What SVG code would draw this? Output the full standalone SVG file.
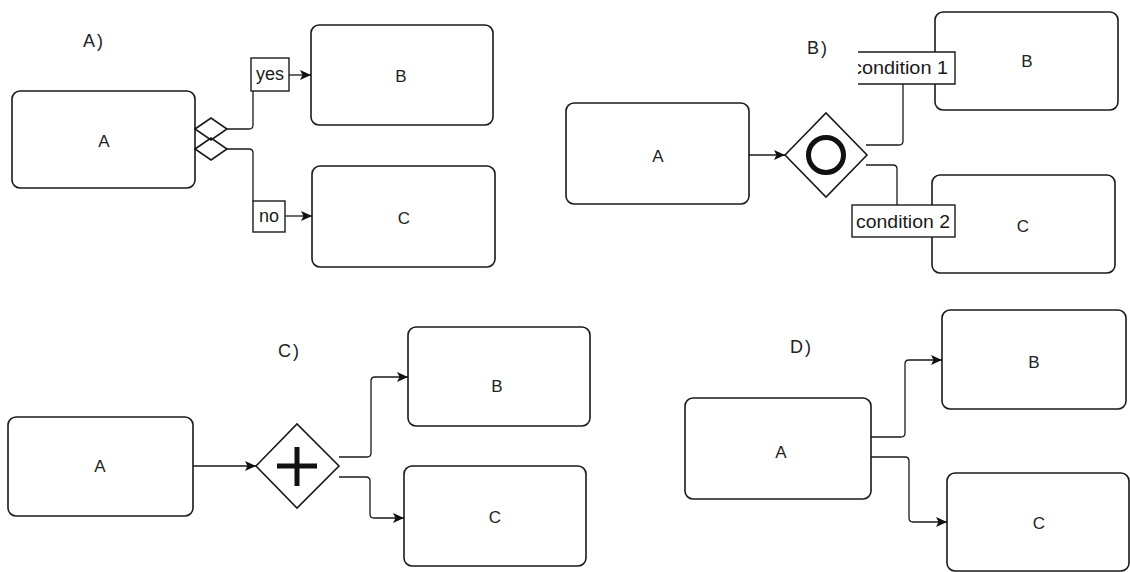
<svg xmlns="http://www.w3.org/2000/svg" width="1130" height="572" viewBox="0 0 1130 572">
  <defs>
    <marker id="arrow" markerUnits="userSpaceOnUse" markerWidth="11" markerHeight="10" refX="11" refY="5" orient="auto">
      <path d="M0,0 L11,5 L0,10 L2.5,5 z" fill="#111"/>
    </marker>
    <clipPath id="clip-cond1">
      <rect x="858" y="50" width="100" height="36"/>
    </clipPath>
  </defs>
  <style>
    .box{fill:#fff;stroke:#1a1a1a;stroke-width:1.6}
    .lbl{font-family:"Liberation Sans",Arial,sans-serif;font-size:17px;fill:#222;text-anchor:middle;dominant-baseline:central}
    .title{font-family:"Liberation Sans",Arial,sans-serif;font-size:18px;fill:#222;letter-spacing:2px}
    .tag{fill:#fff;stroke:#1a1a1a;stroke-width:1.4}
    .tagtxt{font-family:"Liberation Sans",Arial,sans-serif;font-size:18px;fill:#1a1a1a}
    .edge{fill:none;stroke:#1a1a1a;stroke-width:1.3}
    .arr{marker-end:url(#arrow)}
    .gw{fill:#fff;stroke:#1a1a1a;stroke-width:1.6}
  </style>

  <rect width="1130" height="572" fill="#fff"/>

  <!-- panel titles -->
  <g id="titles">
    <text class="title" x="83" y="47">A)</text>
    <text class="title" x="807" y="54">B)</text>
    <text class="title" x="278" y="357">C)</text>
    <text class="title" x="790" y="353">D)</text>
  </g>

  <!-- panel A: inclusive split drawn as diamonds on the task -->
  <g id="a-task-a"><rect class="box" x="12" y="91" width="183" height="97" rx="8"/><text class="lbl" x="104" y="141">A</text></g>
  <g id="a-task-b"><rect class="box" x="311" y="25" width="182" height="100" rx="8"/><text class="lbl" x="401" y="76">B</text></g>
  <g id="a-task-c"><rect class="box" x="312" y="166" width="183" height="101" rx="8"/><text class="lbl" x="404" y="218">C</text></g>

  <!-- panel B: inclusive gateway -->
  <g id="b-task-a"><rect class="box" x="566" y="103" width="183" height="101" rx="8"/><text class="lbl" x="658" y="156">A</text></g>
  <g id="b-gateway">
    <polygon class="gw" points="785,155 826,113 867,155 826,197"/>
    <circle cx="826" cy="155" r="17.5" fill="none" stroke="#111" stroke-width="5"/>
  </g>
  <g id="b-task-b"><rect class="box" x="935" y="12" width="183" height="98" rx="8"/><text class="lbl" x="1027" y="61">B</text></g>
  <g id="b-task-c"><rect class="box" x="932" y="175" width="183" height="98" rx="8"/><text class="lbl" x="1023" y="226">C</text></g>

  <!-- panel C: parallel gateway -->
  <g id="c-task-a"><rect class="box" x="8" y="417" width="185" height="99" rx="8"/><text class="lbl" x="100" y="466">A</text></g>
  <g id="c-gateway">
    <polygon class="gw" points="256,466 297,424 339,466 297,508"/>
    <path d="M297,447 V486 M277,466 H317" stroke="#111" stroke-width="5" fill="none"/>
  </g>
  <g id="c-task-b"><rect class="box" x="408" y="327" width="182" height="99" rx="8"/><text class="lbl" x="497" y="386">B</text></g>
  <g id="c-task-c"><rect class="box" x="404" y="466" width="182" height="100" rx="8"/><text class="lbl" x="495" y="517">C</text></g>

  <!-- panel D: implicit parallel split -->
  <g id="d-task-a"><rect class="box" x="685" y="398" width="186" height="101" rx="8"/><text class="lbl" x="781" y="452">A</text></g>
  <g id="d-task-b"><rect class="box" x="942" y="310" width="184" height="99" rx="8"/><text class="lbl" x="1034" y="362">B</text></g>
  <g id="d-task-c"><rect class="box" x="947" y="473" width="182" height="98" rx="8"/><text class="lbl" x="1039" y="523">C</text></g>

  <!-- connectors and their labels -->
  <g id="connectors">
    <!-- panel A -->
    <polygon points="195,129 211,118 227,129 211,140" fill="none" stroke="#1a1a1a" stroke-width="1.6"/>
    <polygon points="195,149 211,138 227,149 211,160" fill="none" stroke="#1a1a1a" stroke-width="1.6"/>
    <path class="edge" d="M227,129 H249 Q253,129 253,125 V91"/>
    <path class="edge" d="M227,149 H249 Q253,149 253,153 V201"/>
    <rect class="tag" x="251" y="58" width="38" height="33"/>
    <text class="tagtxt" x="270" y="80" text-anchor="middle">yes</text>
    <path class="edge arr" d="M289,75 H311"/>
    <rect class="tag" x="253" y="201" width="32" height="31"/>
    <text class="tagtxt" x="269" y="222" text-anchor="middle">no</text>
    <path class="edge arr" d="M285,216 H312"/>

    <!-- panel B -->
    <path class="edge arr" d="M749,155 H785"/>
    <path class="edge" d="M866,145 H899 Q903,145 903,141 V84"/>
    <path class="edge" d="M866,165 H893 Q897,165 897,169 V205"/>
    <rect x="858" y="52" width="97" height="32" fill="#fff"/>
    <path d="M858,52 H955 V84 H858" fill="none" stroke="#1a1a1a" stroke-width="1.4"/>
    <text class="tagtxt" x="852" y="74" textLength="96" lengthAdjust="spacingAndGlyphs" clip-path="url(#clip-cond1)">condition 1</text>
    <rect class="tag" x="852" y="205" width="103" height="32"/>
    <text class="tagtxt" x="856" y="228" textLength="94" lengthAdjust="spacingAndGlyphs">condition 2</text>

    <!-- panel C -->
    <path class="edge arr" d="M193,466 H256"/>
    <path class="edge arr" d="M339,457 H367 Q371,457 371,453 V381 Q371,377 375,377 H408"/>
    <path class="edge arr" d="M339,477 H366 Q370,477 370,481 V514 Q370,518 374,518 H404"/>

    <!-- panel D -->
    <path class="edge arr" d="M871,437 H901 Q905,437 905,433 V364 Q905,360 909,360 H942"/>
    <path class="edge arr" d="M871,457 H905 Q909,457 909,461 V518 Q909,522 913,522 H947"/>
  </g>
</svg>
